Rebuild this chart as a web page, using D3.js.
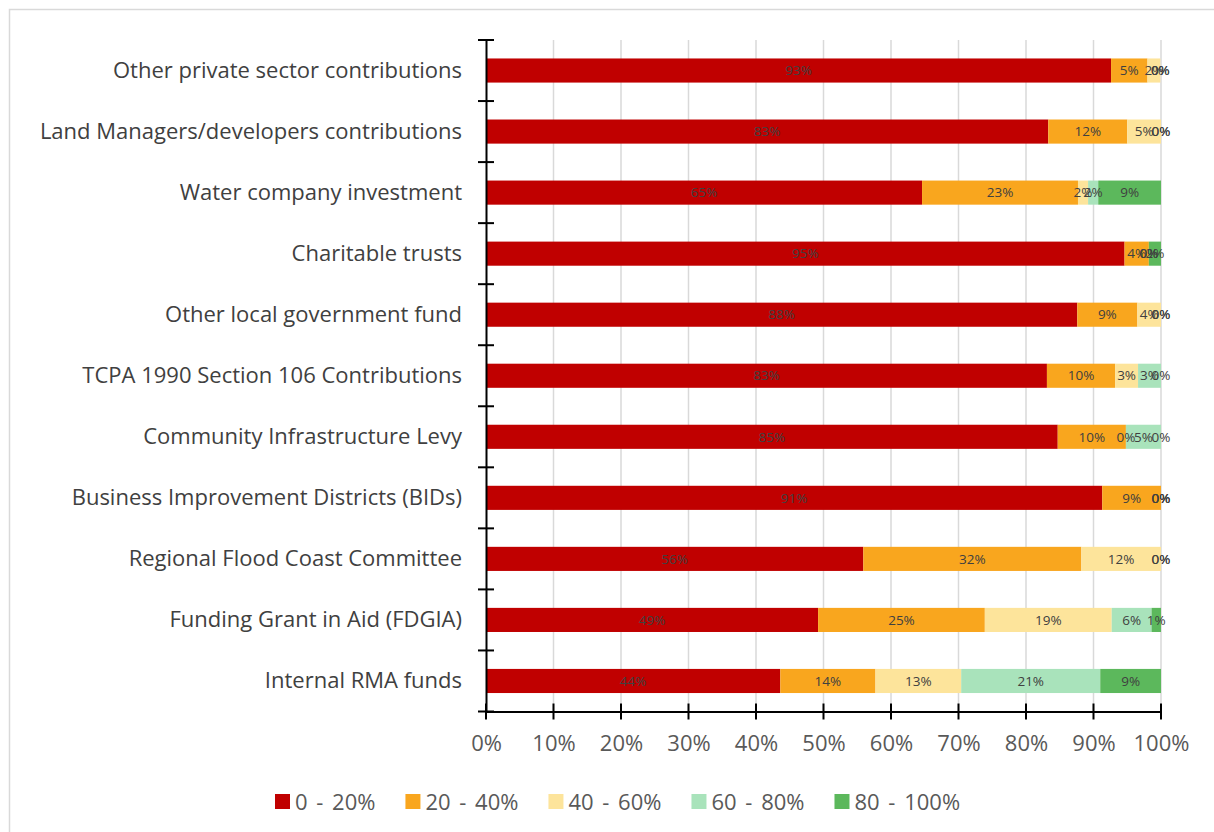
<!DOCTYPE html>
<html>
<head>
<meta charset="utf-8">
<script src="https://cdn.jsdelivr.net/npm/d3@7"></script>
<style>
  html, body { margin: 0; padding: 0; background: #fff; }
  svg { display: block; }
  text { font-family: "Open Sans", "Noto Sans", sans-serif; }
</style>
</head>
<body>
<svg id="chart" width="1214" height="832"></svg>
<script>
const categories = [
  "Other private sector contributions",
  "Land Managers/developers contributions",
  "Water company investment",
  "Charitable trusts",
  "Other local government fund",
  "TCPA 1990 Section 106 Contributions",
  "Community Infrastructure Levy",
  "Business Improvement Districts (BIDs)",
  "Regional Flood Coast Committee",
  "Funding Grant in Aid (FDGIA)",
  "Internal RMA funds"
];
const seriesNames = ["0 - 20%", "20 - 40%", "40 - 60%", "60 - 80%", "80 - 100%"];
const s0_20   = [92.6, 83.3, 64.6, 94.6, 87.6, 83.1, 84.7, 91.3, 55.9, 49.2, 43.6];
const s20_40  = [5.4, 11.7, 23.1, 3.6, 8.9, 10.1, 10.1, 8.7, 32.3, 24.7, 14.1];
const s40_60  = [1.9, 5.0, 1.5, 0.0, 3.5, 3.4, 0.0, 0.0, 11.8, 18.8, 12.7];
const s60_80  = [0.0, 0.0, 1.5, 0.0, 0.0, 3.4, 5.2, 0.0, 0.0, 5.9, 20.6];
const s80_100 = [0.0, 0.0, 9.3, 1.8, 0.0, 0.0, 0.0, 0.0, 0.0, 1.4, 9.0];
const xTicks = [0, 10, 20, 30, 40, 50, 60, 70, 80, 90, 100];
const colors = ["#c00000", "#f9a61e", "#fde49b", "#a9e3bb", "#5cb85c"];

const seriesValues = [s0_20, s20_40, s40_60, s60_80, s80_100];
const rows = categories.map((c, i) => {
  const r = { cat: c };
  seriesNames.forEach((s, j) => r[s] = seriesValues[j][i]);
  return r;
});
const stacked = d3.stack().keys(seriesNames)(rows);

const svg = d3.select("#chart");
// outer frame
svg.append("rect").attr("x", 9.5).attr("y", 9.5).attr("width", 1300).attr("height", 900)
  .attr("fill", "none").attr("stroke", "#d9d9d9").attr("stroke-width", 1.5);

const pLeft = 486, pRight = 1161, pTop = 40, pBottom = 711.5;
const x = d3.scaleLinear().domain([0, 100]).range([pLeft, pRight]);
const y = d3.scaleBand().domain(categories).range([pTop, pBottom]).padding(0);
const barH = y.bandwidth() * 0.395;

// gridlines
svg.append("g").selectAll("line").data(xTicks.slice(1)).join("line")
  .attr("x1", d => x(d)).attr("x2", d => x(d))
  .attr("y1", pTop).attr("y2", pBottom)
  .attr("stroke", "#d9d9d9").attr("stroke-width", 1.5);

// bars
const g = svg.append("g");
stacked.forEach((layer, j) => {
  g.append("g").attr("fill", colors[j]).selectAll("rect").data(layer).join("rect")
    .attr("x", d => x(d[0]))
    .attr("width", d => x(d[1]) - x(d[0]))
    .attr("y", d => y(d.data.cat) + (y.bandwidth() - barH) / 2)
    .attr("height", barH);
});
// data labels
stacked.forEach((layer, j) => {
  g.append("g").selectAll("text").data(layer).join("text")
    .attr("x", d => (x(d[0]) + x(d[1])) / 2)
    .attr("y", d => y(d.data.cat) + y.bandwidth() / 2)
    .attr("dy", "0.35em")
    .attr("text-anchor", "middle")
    .attr("font-size", 13.5)
    .attr("fill", "#404040")
    .text(d => Math.round(d[1] - d[0]) + "%");
});

// y axis
const yAxis = d3.axisLeft(y).tickSize(0).tickPadding(24);
const yg = svg.append("g").attr("transform", `translate(${pLeft},0)`).call(yAxis);
yg.select(".domain").attr("stroke", "#000").attr("stroke-width", 2);
yg.selectAll("text").attr("font-size", 22).attr("fill", "#404040")
  .attr("font-family", "'Open Sans', 'Noto Sans', sans-serif");
// y ticks at band boundaries (crossing)
const bounds = categories.map(c => y(c)).concat([pBottom]);
svg.append("g").selectAll("line").data(bounds).join("line")
  .attr("x1", pLeft - 8).attr("x2", pLeft + 8)
  .attr("y1", d => d).attr("y2", d => d)
  .attr("stroke", "#000").attr("stroke-width", 2);

// x axis
const xAxis = d3.axisBottom(x).tickValues(xTicks).tickFormat(d => d + "%").tickSizeInner(0).tickSizeOuter(0).tickPadding(24);
const xg = svg.append("g").attr("transform", `translate(0,${pBottom})`).call(xAxis);
xg.select(".domain").attr("stroke", "#000").attr("stroke-width", 2);
xg.selectAll("text").attr("font-size", 22).attr("fill", "#595959")
  .attr("font-family", "'Open Sans', 'Noto Sans', sans-serif");
svg.append("g").selectAll("line").data(xTicks).join("line")
  .attr("x1", d => x(d)).attr("x2", d => x(d))
  .attr("y1", pBottom - 8).attr("y2", pBottom + 8)
  .attr("stroke", "#000").attr("stroke-width", 2);

// legend
const legend = svg.append("g");
let lx = 275;
seriesNames.forEach((s, j) => {
  const item = legend.append("g").attr("transform", `translate(${lx},0)`);
  item.append("rect").attr("x", 0).attr("y", 794).attr("width", 15).attr("height", 15).attr("fill", colors[j]);
  const t = item.append("text").attr("x", 20).attr("y", 802).attr("dy", "0.35em")
    .attr("font-size", 22).attr("word-spacing", 3).attr("fill", "#595959").text(s);
  lx += 20 + t.node().getComputedTextLength() + 30;
});
</script>
</body>
</html>
